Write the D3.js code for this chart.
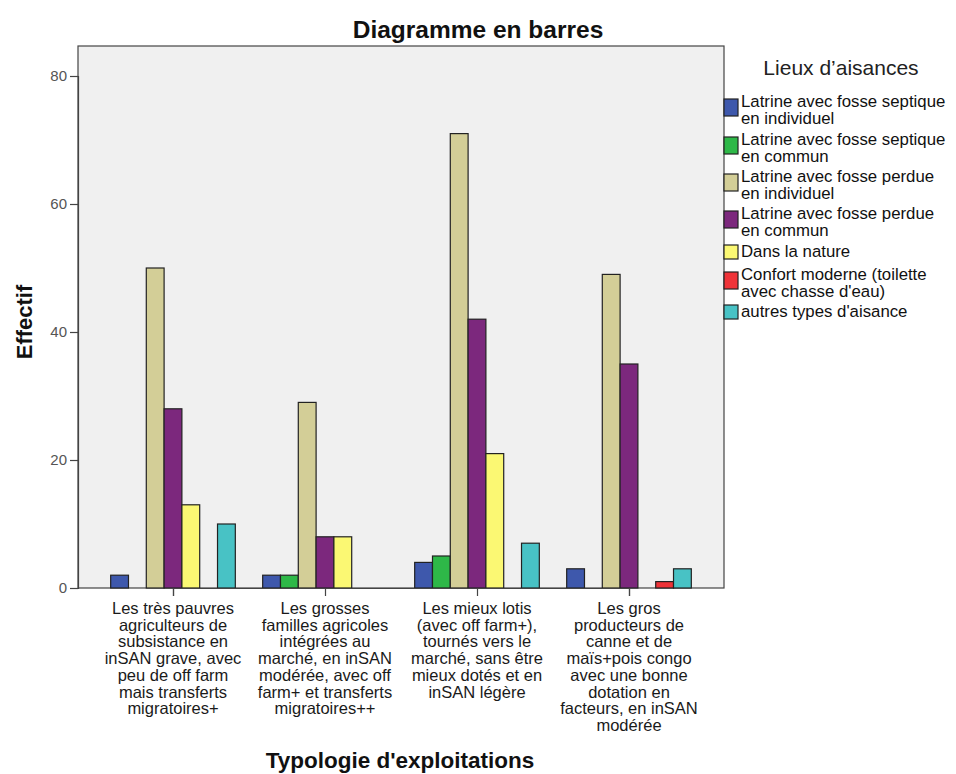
<!DOCTYPE html>
<html><head><meta charset="utf-8">
<script src="https://cdn.jsdelivr.net/npm/d3@7"></script>
<style>body{margin:0;background:#fff;}svg{display:block;font-family:"Liberation Sans",Arial,sans-serif;}</style>
</head><body><svg id="c" width="956" height="774"></svg>
<script>
const categories = [
  ["Les très pauvres","agriculteurs de","subsistance en","inSAN grave, avec","peu de off farm","mais transferts","migratoires+"],
  ["Les grosses","familles agricoles","intégrées au","marché, en inSAN","modérée, avec off","farm+ et transferts","migratoires++"],
  ["Les mieux lotis","(avec off farm+),","tournés vers le","marché, sans être","mieux dotés et en","inSAN légère"],
  ["Les gros","producteurs de","canne et de","maïs+pois congo","avec une bonne","dotation en","facteurs, en inSAN","modérée"]
];
const seriesNames = [
  ["Latrine avec fosse septique","en individuel"],
  ["Latrine avec fosse septique","en commun"],
  ["Latrine avec fosse perdue","en individuel"],
  ["Latrine avec fosse perdue","en commun"],
  ["Dans la nature"],
  ["Confort moderne (toilette","avec chasse d'eau)"],
  ["autres types d'aisance"]
];
const seriesColors = ["#3e58ac","#2eb848","#d3ce97","#7c287d","#fbf873","#ef3338","#48c2c5"];
// values[series][category]
const sepIndiv   = [2, 2, 4, 3];
const sepCommun  = [0, 2, 5, 0];
const perdIndiv  = [50, 29, 71, 49];
const perdCommun = [28, 8, 42, 35];
const nature     = [13, 8, 21, 0];
const confort    = [0, 0, 0, 1];
const autres     = [10, 0, 7, 3];
const values = [sepIndiv, sepCommun, perdIndiv, perdCommun, nature, confort, autres];
const yTicks = [0, 20, 40, 60, 80];

const svg = d3.select("#c");
const L = 78, R = 724, T = 46, B = 588;

svg.append("rect").attr("x",L).attr("y",T).attr("width",R-L).attr("height",B-T)
  .attr("fill","#f0f0f0").attr("stroke","#444").attr("stroke-width",1.2);

const y = d3.scaleLinear().domain([0, 80]).range([B, 76]);
const x0 = d3.scaleBand().domain(d3.range(categories.length)).range([L, R]).paddingInner(0.18).paddingOuter(0.215);
const x1 = d3.scaleBand().domain(d3.range(values.length)).range([0, x0.bandwidth()]);

const gBars = svg.append("g");
categories.forEach((c, ci) => {
  values.forEach((s, si) => {
    const v = s[ci];
    if (v <= 0) return;
    gBars.append("rect")
      .attr("x", x0(ci) + x1(si)).attr("y", y(v))
      .attr("width", x1.bandwidth()).attr("height", B - y(v))
      .attr("fill", seriesColors[si]).attr("stroke", "#222").attr("stroke-width", 1.2);
  });
});

// y axis
const ya = svg.append("g").attr("transform",`translate(${L},0)`)
  .call(d3.axisLeft(y).tickValues(yTicks).tickSize(8).tickPadding(3));
ya.select(".domain").attr("stroke","#444").attr("stroke-width",1.2);
ya.selectAll(".tick line").attr("stroke","#444").attr("stroke-width",1.2);
ya.selectAll("text").attr("font-size",15).attr("fill","#555").attr("font-family","Liberation Sans, Arial, sans-serif");

// x axis
const xa = svg.append("g").attr("transform",`translate(0,${B})`)
  .call(d3.axisBottom(d3.scaleOrdinal().domain(d3.range(4)).range(d3.range(4).map(i=>x0(i)+x0.bandwidth()/2))).tickSize(8).tickFormat(""));
xa.select(".domain").attr("stroke","#444").attr("stroke-width",1.2);
xa.selectAll(".tick line").attr("stroke","#444").attr("stroke-width",1.2);

categories.forEach((lines, ci) => {
  const cx = x0(ci)+x0.bandwidth()/2;
  const t = svg.append("text").attr("x", cx).attr("y", 614)
    .attr("text-anchor","middle").attr("font-size",16.5).attr("fill","#1a1a1a");
  lines.forEach((ln, li) => t.append("tspan").attr("x", cx).attr("dy", li===0?0:16.7).text(ln));
});

svg.append("text").attr("x",478).attr("y",38).attr("text-anchor","middle")
  .attr("font-size",24.5).attr("font-weight","bold").attr("fill","#111").text("Diagramme en barres");
svg.append("text").attr("transform","translate(32,322) rotate(-90)").attr("text-anchor","middle")
  .attr("font-size",22).attr("font-weight","bold").attr("fill","#111").text("Effectif");
svg.append("text").attr("x",400).attr("y",768).attr("text-anchor","middle")
  .attr("font-size",22.5).attr("font-weight","bold").attr("fill","#111").text("Typologie d'exploitations");

// legend
svg.append("text").attr("x",841).attr("y",75).attr("text-anchor","middle")
  .attr("font-size",21).attr("fill","#222").text("Lieux d\u2019aisances");
const legBase = [107, 145, 182, 219, 257, 280, 317];
seriesNames.forEach((lines, si) => {
  const yb = legBase[si];
  const h = lines.length === 2 ? 17 : 14;
  const sy = lines.length === 2 ? yb - 8 : yb - 12;
  svg.append("rect").attr("x",724).attr("y",sy).attr("width",14).attr("height",h)
    .attr("fill",seriesColors[si]).attr("stroke","#222").attr("stroke-width",1.2);
  const t = svg.append("text").attr("x",741).attr("y",yb).attr("font-size",16.8).attr("fill","#111");
  lines.forEach((ln, li) => t.append("tspan").attr("x",741).attr("dy", li===0?0:16.5).text(ln));
});
</script></body></html>
